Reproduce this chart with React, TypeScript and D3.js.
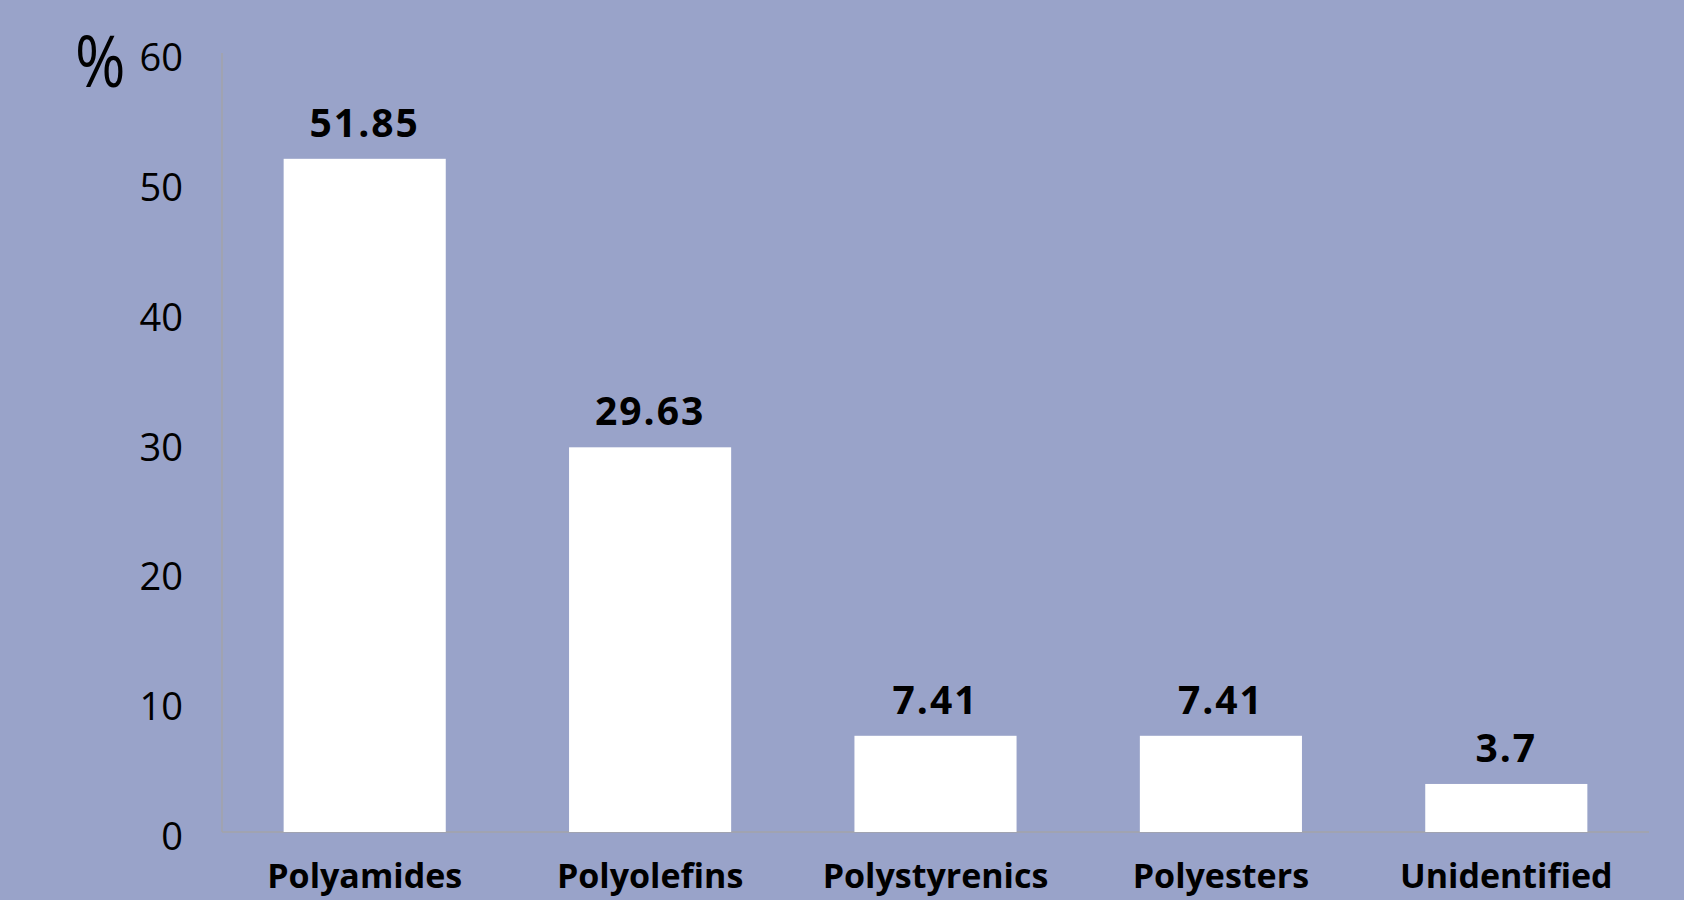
import React from "react";
import * as d3 from "d3";

const categories = ["Polyamides", "Polyolefins", "Polystyrenics", "Polyesters", "Unidentified"];
const values = [51.85, 29.63, 7.41, 7.41, 3.7];
const valueLabels = ["51.85", "29.63", "7.41", "7.41", "3.7"];
const yTicks = [0, 10, 20, 30, 40, 50, 60];

const W = 1684;
const H = 900;
const margin = { left: 222, right: 35, top: 53, bottom: 68 };
const BG = "#99a3c9";
const FONT = "'Open Sans', 'Noto Sans', sans-serif";

export default function App() {
  const x = d3
    .scaleBand<string>()
    .domain(categories)
    .range([margin.left, W - margin.right])
    .paddingInner(0.432)
    .paddingOuter(0.216);
  const y = d3.scaleLinear().domain([0, 60]).range([H - margin.bottom, margin.top]);

  return (
    <svg
      width={W}
      height={H}
      style={{ position: "fixed", left: 0, top: 0, display: "block" }}
    >
      <rect x={0} y={0} width={W} height={H} fill={BG} />
      {/* axes */}
      <line x1={margin.left} x2={margin.left} y1={y(60)} y2={y(0)} stroke="#a3a3a8" strokeWidth={1.5} />
      <line x1={margin.left} x2={W - margin.right} y1={y(0)} y2={y(0)} stroke="#a3a3a8" strokeWidth={1.5} />
      {/* y tick labels */}
      {yTicks.map((t) => (
        <text
          key={t}
          x={183}
          y={y(t) + 3}
          textAnchor="end"
          dominantBaseline="central"
          fontFamily={FONT}
          fontSize={38}
          fill="#000"
        >
          {t}
        </text>
      ))}
      <text
        x={0}
        y={0}
        transform="translate(75,87) scale(0.86,1)"
        fontFamily={FONT}
        fontSize={71}
        fill="#000"
      >
        %
      </text>
      {/* bars */}
      {categories.map((c, i) => (
        <rect
          key={c}
          x={x(c)}
          y={y(values[i])}
          width={x.bandwidth()}
          height={y(0) - y(values[i])}
          fill="#ffffff"
        />
      ))}
      {/* value labels */}
      {categories.map((c, i) => (
        <text
          key={c + "v"}
          x={(x(c) as number) + x.bandwidth() / 2}
          y={y(values[i]) - 22}
          textAnchor="middle"
          fontFamily={FONT}
          fontWeight="bold"
          fontSize={39}
          letterSpacing={2}
          fill="#000"
        >
          {valueLabels[i]}
        </text>
      ))}
      {/* category labels */}
      {categories.map((c) => (
        <text
          key={c + "c"}
          x={(x(c) as number) + x.bandwidth() / 2}
          y={888}
          textAnchor="middle"
          fontFamily={FONT}
          fontWeight="bold"
          fontSize={34}
          fill="#000"
        >
          {c}
        </text>
      ))}
    </svg>
  );
}
